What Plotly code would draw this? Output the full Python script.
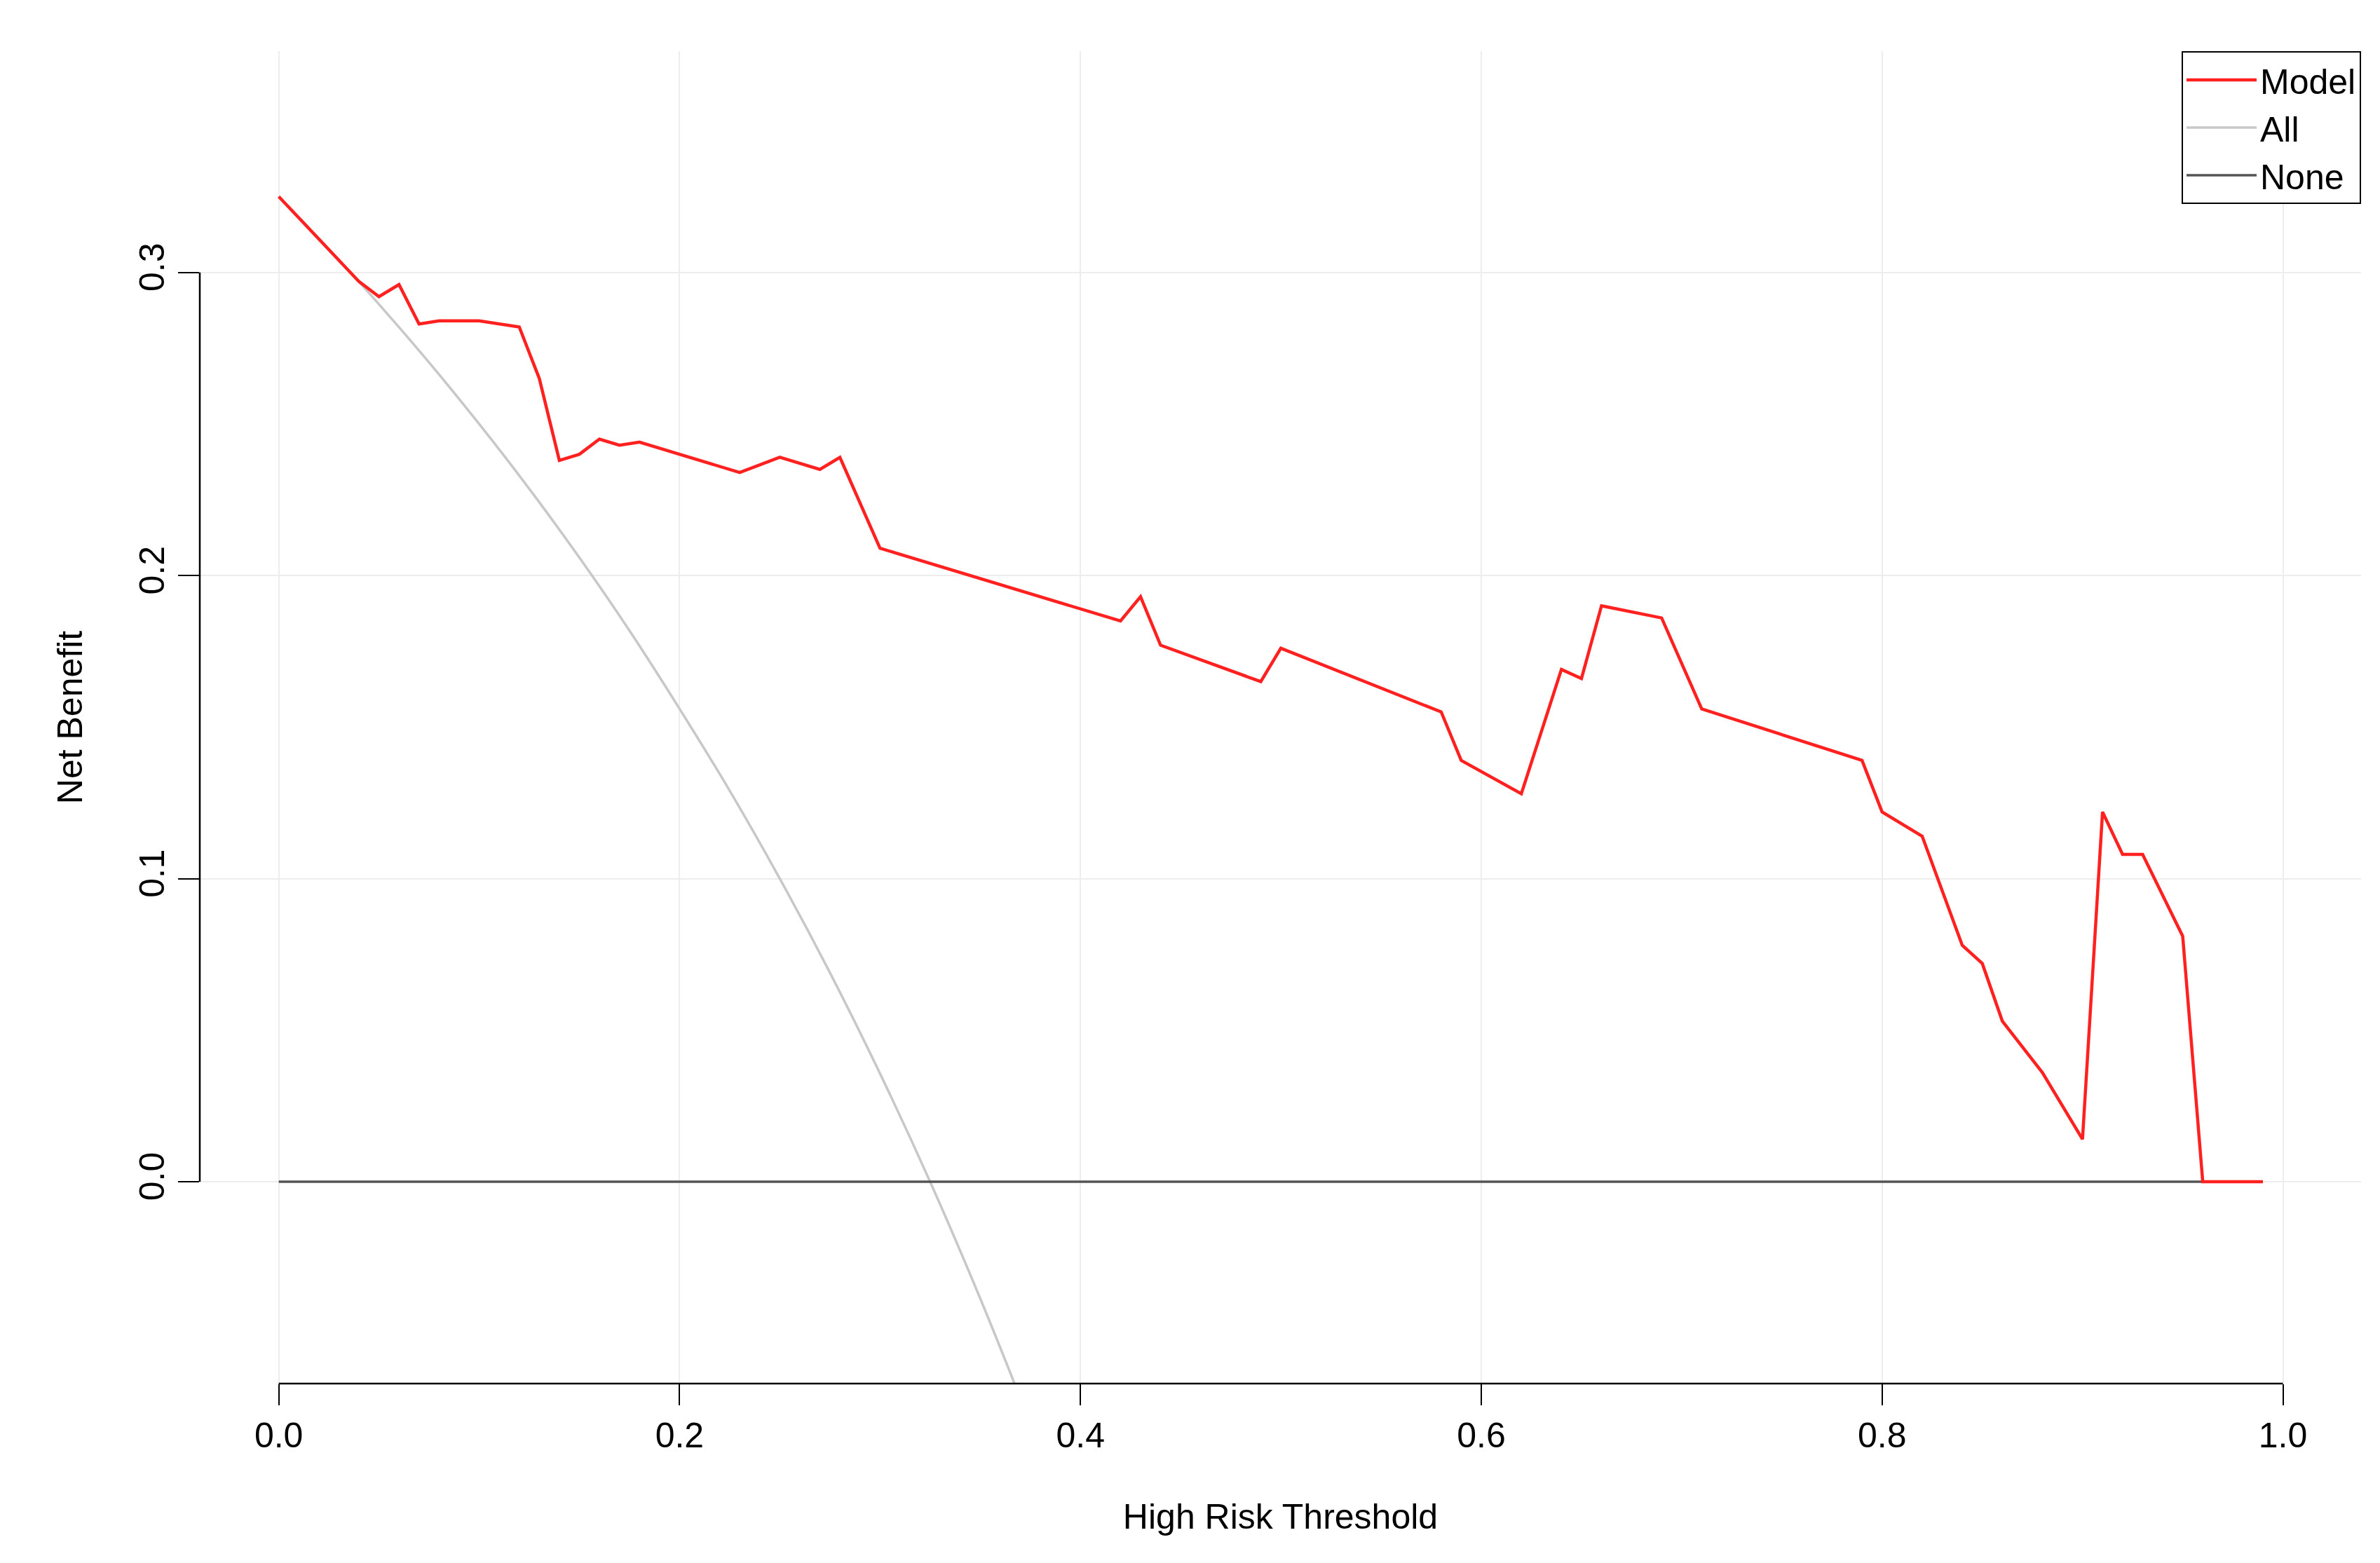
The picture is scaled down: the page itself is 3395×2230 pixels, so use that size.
import plotly.graph_objects as go

thr_model = [0,0.04,0.05,0.06,0.07,0.08,0.09,0.10,0.12,0.13,0.14,0.15,0.16,0.17,0.18,0.23,0.25,0.27,0.28,0.30,
             0.42,0.43,0.44,0.49,0.50,0.58,0.59,0.62,0.64,0.65,0.66,0.69,0.71,0.79,0.80,0.82,0.84,0.85,0.86,0.88,
             0.90,0.91,0.92,0.93,0.95,0.96,0.99]
nb_model = [0.325,0.297,0.292,0.296,0.283,0.284,0.284,0.284,0.282,0.265,0.238,0.240,0.245,0.243,0.244,0.234,0.239,0.235,0.239,0.209,
            0.185,0.193,0.177,0.165,0.176,0.155,0.139,0.128,0.169,0.166,0.190,0.186,0.156,0.139,0.122,0.114,0.078,0.072,0.053,0.036,
            0.014,0.122,0.108,0.108,0.081,0.0,0.0]
thr_all = [0,0.025,0.05,0.075,0.1,0.125,0.15,0.175,0.2,0.225,0.25,0.275,0.3,0.325,0.35,0.37]
nb_all = [0.325,0.3077,0.2895,0.2703,0.25,0.2286,0.2059,0.1818,0.156,0.129,0.1,0.069,0.0357,0.0,-0.0385,-0.0714]
thr_none = [0,0.99]
nb_none = [0,0]

fig = go.Figure()
fig.add_trace(go.Scatter(x=thr_all, y=nb_all, mode="lines", name="All", legendrank=2,
                         line=dict(color="#c8c8c8", width=3.5, shape="spline")))
fig.add_trace(go.Scatter(x=thr_none, y=nb_none, mode="lines", name="None", legendrank=3,
                         line=dict(color="#555555", width=3.5)))
fig.add_trace(go.Scatter(x=thr_model, y=nb_model, mode="lines", name="Model", legendrank=1,
                         line=dict(color="#ff2020", width=4.5)))

font = dict(family="Liberation Sans, Arial", size=50, color="black")
fig.update_layout(
    width=3395, height=2230, plot_bgcolor="white", paper_bgcolor="white",
    margin=dict(l=277, r=35, t=65, b=264), font=font,
    legend=dict(x=1, y=1, xanchor="right", yanchor="top", bordercolor="black", borderwidth=2,
                bgcolor="white", font=dict(size=50), itemwidth=100, tracegroupgap=0,
                traceorder="normal", entrywidth=180),
    xaxis=dict(range=[-0.0394, 1.039], tickvals=[0,0.2,0.4,0.6,0.8,1.0], ticktext=["0.0","0.2","0.4","0.6","0.8","1.0"],
               showgrid=True, gridcolor="#ededed", gridwidth=2, zeroline=False, showline=False,
               ticks="outside", ticklen=30, tickwidth=2, tickcolor="black",
               title=dict(text="High Risk Threshold", standoff=70, font=dict(size=50))),
    yaxis=dict(range=[-0.0666, 0.373], tickvals=[0,0.1,0.2,0.3], ticktext=["0.0","0.1","0.2","0.3"], tickangle=-90,
               showgrid=True, gridcolor="#ededed", gridwidth=2, zeroline=False, showline=False,
               ticks="outside", ticklen=30, tickwidth=2, tickcolor="black",
               title=dict(text="Net Benefit", standoff=55, font=dict(size=50))),
)
fig.add_shape(type="line", xref="x", yref="paper", x0=0, x1=1, y0=0, y1=0, line=dict(color="black", width=2.5))
fig.add_shape(type="line", xref="paper", yref="y", x0=0, x1=0, y0=0, y1=0.3, line=dict(color="black", width=2.5))
fig.write_html("out.html")
